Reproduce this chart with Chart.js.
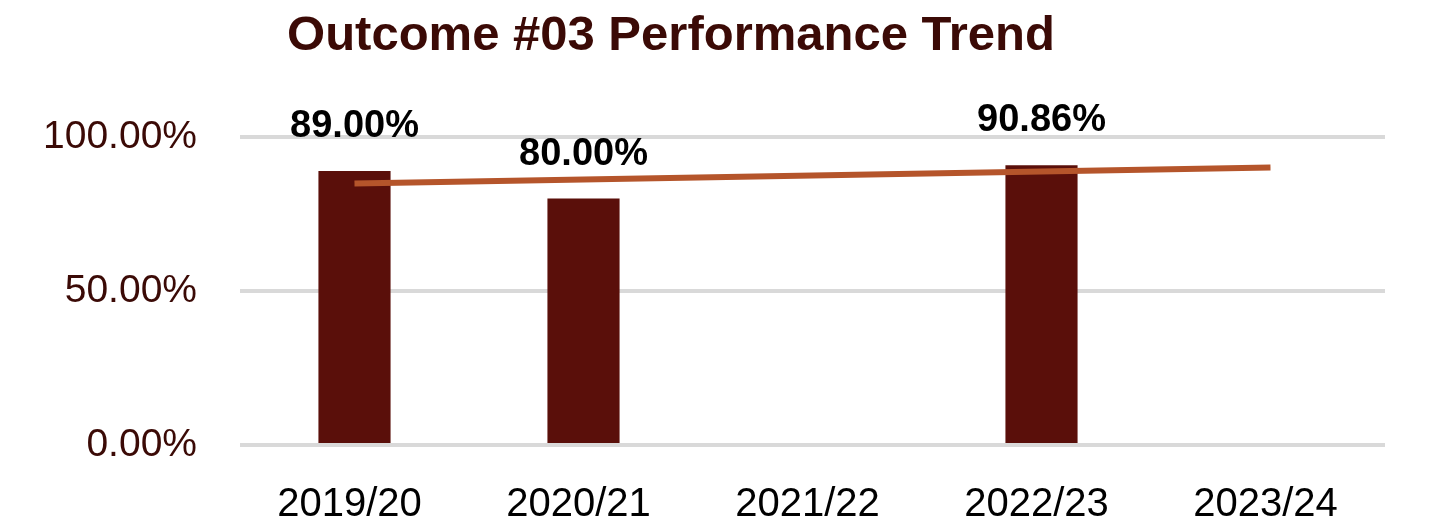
<!DOCTYPE html>
<html>
<head>
<meta charset="utf-8">
<script src="https://cdn.jsdelivr.net/npm/chart.js@4"></script>
<style>
  html, body { margin: 0; padding: 0; background: #fff; }
  #wrap { width: 1438px; height: 532px; }
</style>
</head>
<body>
<div id="wrap"><canvas id="chart"></canvas></div>
<script>
const categories = ["2019/20", "2020/21", "2021/22", "2022/23", "2023/24"];
const outcomeValues = [89.00, 80.00, null, 90.86, null];
// trend line: start and end points only
const trendValues = [84.9, null, null, null, 90.1];
const yTicks = [0, 50, 100];
const chartTitle = "Outcome #03 Performance Trend";

const FONT = "'Liberation Sans', Arial, sans-serif";

const barLabels = {
  id: "barLabels",
  afterDatasetsDraw(chart) {
    const ctx = chart.ctx;
    const meta = chart.getDatasetMeta(1); // bar dataset
    ctx.save();
    ctx.font = "bold 38px " + FONT;
    ctx.fillStyle = "#000000";
    ctx.textAlign = "center";
    ctx.textBaseline = "alphabetic";
    meta.data.forEach((bar, i) => {
      const v = outcomeValues[i];
      if (v === null) return;
      ctx.fillText(v.toFixed(2) + "%", bar.x, bar.y - 34);
    });
    ctx.restore();
  }
};

const titleText = {
  id: "titleText",
  afterDraw(chart) {
    const ctx = chart.ctx;
    ctx.save();
    ctx.font = "bold 49px " + FONT;
    ctx.fillStyle = "#3b0a06";
    ctx.textAlign = "center";
    ctx.textBaseline = "alphabetic";
    ctx.fillText(chartTitle, 671, 50);
    ctx.restore();
  }
};

new Chart(document.getElementById("chart"), {
  data: {
    labels: categories,
    datasets: [
      {
        type: "line",
        data: trendValues,
        borderColor: "#b5552b",
        borderWidth: 6,
        pointRadius: 0,
        spanGaps: true,
        tension: 0,
        order: 0
      },
      {
        type: "bar",
        data: outcomeValues,
        backgroundColor: "#5a0f0a",
        barPercentage: 0.315,
        categoryPercentage: 1,
        order: 1
      }
    ]
  },
  options: {
    responsive: true,
    maintainAspectRatio: false,
    animation: false,
    devicePixelRatio: 1,
    layout: { padding: { top: 137, right: 53, left: 0, bottom: 0 } },
    plugins: {
      legend: { display: false },
      tooltip: { enabled: false }
    },
    scales: {
      x: {
        grid: { display: false, drawTicks: false },
        border: { display: false },
        ticks: {
          color: "#000000",
          font: { family: FONT, size: 40 },
          padding: 36,
          labelOffset: -5,
          maxRotation: 0
        },
        afterFit(scale) { scale.height = 87; }
      },
      y: {
        min: 0,
        max: 100,
        grid: { color: "#d9d9d9", lineWidth: 4, drawTicks: false },
        border: { display: false },
        ticks: {
          color: "#3b0a06",
          font: { family: FONT, size: 39 },
          padding: 43,
          stepSize: 50,
          callback: (v) => yTicks.includes(v) ? v.toFixed(2) + "%" : ""
        },
        afterFit(scale) { scale.width = 240; }
      }
    }
  },
  plugins: [barLabels, titleText]
});
</script>
</body>
</html>
